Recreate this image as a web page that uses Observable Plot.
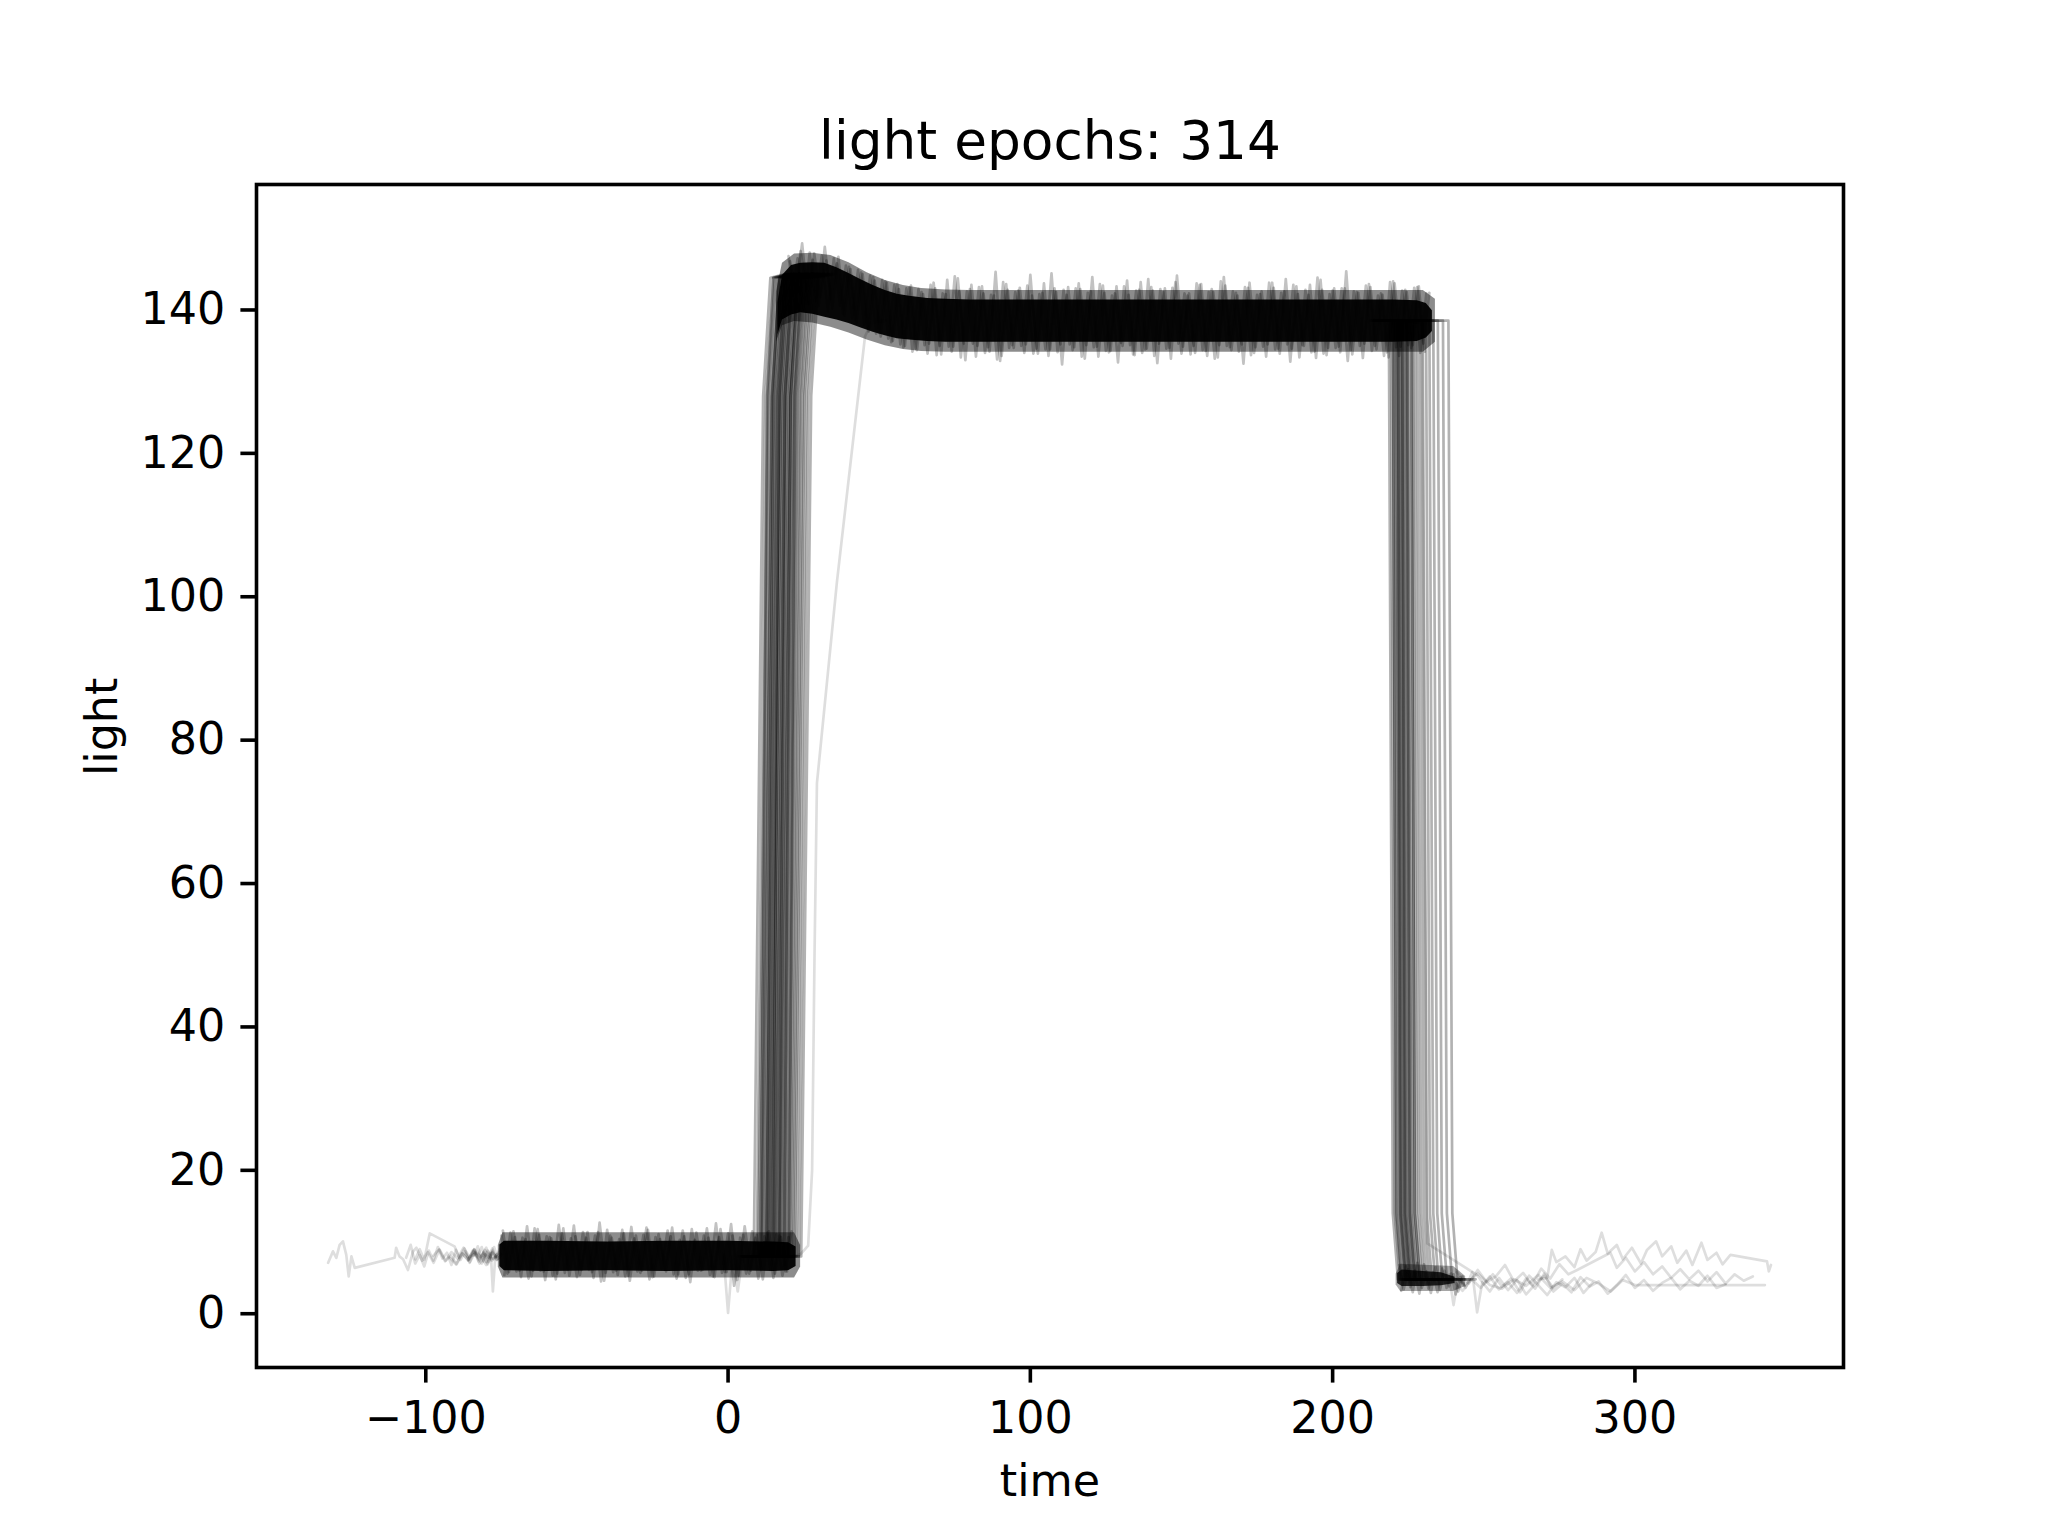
<!DOCTYPE html>
<html><head><meta charset="utf-8">
<script src="https://cdn.jsdelivr.net/npm/d3@7"></script>
<script src="https://cdn.jsdelivr.net/npm/@observablehq/plot@0.6"></script>
<style>html,body{margin:0;padding:0;background:#fff;}#chart{width:2048px;height:1536px;}</style>
</head><body><div id="chart"></div>
<script>
// ---------- text ----------
const titleText = "light epochs: 314";
const xLabel = "time";
const yLabel = "light";
const xTicks = [-100, 0, 100, 200, 300];
const yTicks = [0, 20, 40, 60, 80, 100, 120, 140];

// ---------- dense envelope ----------
// baseline (before the light goes on)
const baseCoreX  = [-75.5, -74, -60, -40, -20, 0, 15, 20, 22.5];
const baseCoreLo = [6.6, 6.0, 5.9, 6.0, 5.9, 6.0, 5.9, 6.0, 6.6];
const baseCoreHi = [9.6, 10.1, 10.1, 10.0, 10.1, 10.1, 10.0, 9.9, 9.3];
const baseMidX  = [-76, -74.5, 22, 24];
const baseMidLo = [6.5, 5.0, 5.0, 6.5];
const baseMidHi = [9.5, 11.3, 11.3, 9.5];
// overshoot hump + plateau
const highCoreX  = [16.5, 18, 21, 24, 28, 32, 36, 40, 44, 48, 52, 56, 60, 66, 72, 80, 100, 140, 180, 220, 228, 231, 233];
const highCoreHi = [141, 144.8, 146.2, 146.5, 146.6, 146.5, 145.9, 145.1, 144.2, 143.4, 142.7, 142.2, 141.9, 141.6, 141.5, 141.4, 141.4, 141.4, 141.4, 141.4, 141.3, 140.9, 139.9];
const highCoreLo = [136.5, 138.6, 139.3, 139.6, 139.4, 139.0, 138.6, 138.1, 137.5, 136.9, 136.4, 136.0, 135.8, 135.6, 135.5, 135.5, 135.5, 135.5, 135.5, 135.5, 135.6, 136.1, 137.0];
const highMidX  = [16, 18, 22, 28, 34, 40, 46, 52, 58, 64, 72, 80, 230, 234];
const highMidHi = [142.5, 146.5, 147.8, 147.9, 147.6, 146.6, 145.2, 144.1, 143.4, 143.0, 142.8, 142.7, 142.7, 141.5];
const highMidLo = [135.5, 137.8, 138.4, 138.2, 137.6, 136.8, 135.8, 135.0, 134.5, 134.2, 134.1, 134.1, 134.1, 135.5];
// after the light goes off
const lowCoreX  = [221.5, 223, 230, 236, 240.5];
const lowCoreLo = [4.2, 3.8, 3.8, 3.9, 4.2];
const lowCoreHi = [5.6, 6.1, 5.9, 5.7, 5.1];
const lowMidX  = [221, 222.5, 240, 244];
const lowMidLo = [4.0, 3.1, 3.1, 3.8];
const lowMidHi = [5.5, 6.9, 6.6, 5.2];

// ---------- noisy fringe traces (time grid start, step 2) ----------
const plateauStart = [20, 21, 20.5];
const plateauStep = 2;
const plateau1 = [147.5,141,148.2,142,147,140.5,148.8,141.5,146.5,139.5,
146,138.6,145.2,137.5,144.6,136.8,144,135.5,143.6,134.8,
143.1,134.6,142.5,133.9,143.8,135.0,142.2,134.2,144.4,135.3,
142.9,133.5,143.3,134.8,142.0,132.9,143.6,135.1,142.7,134.0,
144.9,134.6,142.4,133.6,143.0,135.2,142.1,134.4,143.7,133.2,
142.6,134.9,143.4,134.1,142.3,135.4,144.1,133.8,142.8,134.5,
143.2,132.6,142.5,134.7,143.9,133.9,142.0,135.0,143.5,134.3,
142.9,133.4,144.6,134.8,142.4,135.2,143.1,134.0,142.2,133.5,
143.8,134.6,142.6,132.8,143.3,135.1,142.1,134.2,144.2,133.7,
142.7,134.9,143.0,134.4,142.5,133.3,143.6,135.0,142.3,134.1,
144.0,133.6,142.8,134.7,143.2,135.3,142.4];
const plateau2 = [141.5,147.2,140,148,141.2,147.6,139.8,147.2,140.6,146.2,
138.8,145.6,137.9,144.8,136.7,144.2,136.0,143.5,135.2,143.0,
134.2,142.9,135.1,143.5,133.7,142.3,134.9,144.7,133.4,142.6,
135.3,143.2,134.0,142.1,133.1,143.9,134.7,142.5,135.0,143.4,
133.9,142.2,134.5,145.1,134.1,142.8,135.2,143.0,133.5,142.4,
134.8,143.6,134.3,142.0,132.7,143.3,135.1,142.7,134.0,144.3,
133.6,142.9,134.6,143.1,135.3,142.3,133.8,143.7,134.4,142.5,
133.2,144.0,135.0,142.6,134.2,143.2,133.7,142.1,134.9,143.8,
134.5,142.4,135.2,143.5,133.4,142.8,134.1,144.5,133.9,142.2,
134.7,143.0,132.9,142.6,135.0,143.4,134.3,142.0,133.6,143.9,
134.8,142.7,135.1,143.1,134.0,142.3];
const plateau3 = [146.8,142.5,149.3,140.8,147.9,141.8,146.9,140.2,147.4,139.2,
145.7,138.2,145.0,137.0,144.1,136.3,143.8,135.7,142.9,135.0,
143.4,134.4,142.2,135.3,143.0,133.8,144.2,134.9,142.6,133.0,
143.5,135.0,142.3,134.2,145.3,133.6,142.8,134.7,143.1,135.2,
142.0,133.9,143.7,134.5,142.5,132.4,143.2,134.8,142.9,135.1,
144.6,133.5,142.4,134.3,143.3,135.0,142.1,133.7,143.9,134.6,
142.7,135.3,143.0,133.2,144.8,134.9,142.3,134.0,143.6,133.6,
142.5,135.1,143.4,134.4,142.0,132.5,143.8,134.8,142.6,135.2,
143.1,133.9,144.3,134.6,142.2,135.0,143.5,133.3,142.8,134.7,
143.0,134.1,145.4,133.8,142.4,135.3,143.2,134.5,142.1,133.4,
143.7,134.9,142.5,135.1,143.3,134.2];
const baseStart = [-75, -74, -74.5];
const baseStep = 2;
const base1 = [10.9,5.6,11.5,6.0,10.4,5.2,11.8,5.9,10.7,4.8,
11.2,6.1,12.3,5.4,10.6,5.8,11.4,4.6,10.9,6.0,
11.7,5.3,10.5,5.7,12.0,5.1,11.1,6.2,10.8,4.9,
11.6,5.5,10.3,6.0,11.9,5.2,10.7,5.8,12.5,4.7,
11.0,5.6,10.6,6.1,11.3,5.0,10.9,5.9,11.5];
const base2 = [5.4,11.3,5.9,10.6,4.9,11.9,6.0,10.8,5.3,12.4,
5.7,10.5,5.1,11.4,6.1,10.9,4.5,11.7,5.8,10.4,
5.2,12.1,5.9,11.0,4.8,10.7,6.2,11.6,5.5,10.3,
5.0,11.8,6.0,10.9,5.4,12.6,5.7,11.2,3.9,10.6,
5.6,11.5,4.9,10.8,6.1,11.1,5.3,10.7];
const base3 = [11.6,5.8,10.7,5.1,12.2,6.0,11.0,4.7,10.5,5.6,
11.9,5.3,10.8,6.1,11.4,5.0,12.7,5.7,10.6,5.4,
11.2,4.6,10.9,6.0,11.7,5.2,10.4,5.9,12.0,5.5,
10.8,4.4,11.3,6.1,10.6,5.1,11.8,5.8,10.9,5.3,
12.2,6.0,11.0,4.8,11.5,5.6,10.7,5.9];
const lowStart = [222, 222.7];
const lowStep = 1.5;
const low1 = [6.8,3.4,6.2,3.0,7.1,3.6,5.9,2.9,6.5,3.3,6.0,3.8,5.5,3.1,5.2];
const low2 = [3.2,6.6,3.7,6.0,2.8,6.9,3.5,5.8,3.0,6.3,3.6,5.6,2.7,5.1,3.9];

// ---------- switching edges: time of each trace at the given light levels ----------
const riseLevels = [8.0, 8.0, 128, 144.5, 145.0];
const riseTimes = [
[3.5,8.5,11.6,14.0,19.0],[4.5,9.5,12.4,14.9,19.9],[5.0,10.0,13.2,15.5,20.5],[5.5,10.5,13.4,15.9,20.9],
[6.0,11.0,14.1,16.4,21.4],[6.2,11.2,14.5,17.0,22.0],[6.5,11.5,14.4,16.9,21.9],[7.0,12.0,15.2,17.6,22.6],
[7.3,12.3,15.1,17.6,22.6],[7.6,12.6,15.8,18.2,23.2],[8.0,13.0,16.2,18.7,23.7],[8.2,13.2,16.0,18.4,23.4],
[8.5,13.5,16.6,19.0,24.0],[8.8,13.8,17.1,19.6,24.6],[9.0,14.0,17.0,19.4,24.4],[9.3,14.3,17.6,20.1,25.1],
[9.6,14.6,17.5,19.9,24.9],[10.0,15.0,18.3,20.8,25.8],[10.2,15.2,18.1,20.5,25.5],[10.5,15.5,18.7,21.1,26.1],
[10.8,15.8,19.0,21.5,26.5],[11.0,16.0,19.3,21.7,26.7],[11.4,16.4,19.5,22.0,27.0],[11.8,16.8,20.1,22.5,27.5],
[12.0,17.0,20.2,22.7,27.7],[12.3,17.3,20.6,23.0,28.0],[12.7,17.7,20.8,23.3,28.3],[13.0,18.0,21.3,23.7,28.7],
[13.4,18.4,21.5,24.0,29.0],[13.8,18.8,22.0,24.4,29.4],[14.2,19.2,22.3,24.8,29.8],[14.6,19.6,22.9,25.3,30.3],
[15.0,20.0,23.1,25.6,30.6],[15.5,20.5,23.8,26.2,31.2],[16.0,21.0,24.1,26.6,31.6],[16.5,21.5,24.8,27.2,32.2],
[17.0,22.0,25.2,27.7,32.7],[17.6,22.6,25.9,28.3,33.3],[18.4,23.4,26.6,29.1,34.1],[19.2,24.2,27.5,29.9,34.9],
[7.8,12.8,14.9,16.8,21.8],[9.9,14.9,16.8,18.9,23.9],[11.9,16.9,18.8,21.0,26.0],[13.6,18.6,20.7,23.0,28.0],
[5.8,10.8,12.9,15.0,20.0],[15.2,20.2,22.1,24.4,29.4]];
const fallLevels = [138.5, 138.5, 14, 4.8, 4.8];
const fallTimes = [
[212.6,218.6,219.9,221.6,227.6],[213.3,219.3,220.6,222.3,228.3],[213.9,219.9,221.2,222.9,228.9],
[214.4,220.4,221.7,223.4,229.4],[214.8,220.8,222.1,223.8,229.8],[215.1,221.1,222.4,224.1,230.1],
[215.5,221.5,222.8,224.5,230.5],[215.8,221.8,223.1,224.8,230.8],[216.2,222.2,223.5,225.2,231.2],
[216.5,222.5,223.8,225.5,231.5],[216.9,222.9,224.2,225.9,231.9],[217.2,223.2,224.5,226.2,232.2],
[217.6,223.6,224.9,226.6,232.6],[218.0,224.0,225.3,227.0,233.0],[218.4,224.4,225.7,227.4,233.4],
[218.8,224.8,226.1,227.8,233.8],[219.3,225.3,226.6,228.3,234.3],[219.9,225.9,227.2,228.9,234.9],
[220.5,226.5,227.8,229.5,235.5],[221.2,227.2,228.5,230.2,236.2],[222.0,228.0,229.3,231.0,237.0],
[222.9,228.9,230.2,231.9,237.9],[223.8,229.8,231.1,232.8,238.8],[224.9,230.9,232.2,233.9,239.9],
[226.0,232.0,233.3,235.0,241.0],[227.3,233.3,234.6,236.3,242.3],[228.8,234.8,236.1,237.8,243.8],
[230.5,236.5,237.8,239.5,245.5],[232.3,238.3,239.6,241.3,247.3],
[214.0,220.0,220.9,222.6,228.6],[215.6,221.6,222.5,224.2,230.2],[217.0,223.0,223.9,225.6,231.6],
[218.6,224.6,225.5,227.2,233.2],[220.2,226.2,227.1,228.8,234.8]];

// ---------- individual sparse traces [time, light] ----------
const slowRise = [[20,7.8],[24,8.3],[26.5,9.5],[27.8,20],[28.6,50],[29.4,74],[36,102],[45.3,136.3],[47.5,138.3],[52,138.5]];
const spikeTrace = [[-1.5,8.2],[0,0.1],[1.5,7.9],[3.2,3.1],[4.8,8.0]];
const leftA = [[-132.3,7.1],[-130.7,8.7],[-129.6,7.8],[-128.5,9.6],[-127.4,10.1],[-126.3,8.2],[-125.5,5.2],[-124.6,8.0],[-123.5,6.4],[-110.3,7.8],[-109.8,9.2],[-108.7,8.0],[-107.5,7.6],[-105.9,6.1],[-104.2,8.7],[-103.1,9.2],[-101.2,7.4],[-99.3,8.6],[-97.4,7.1],[-95.5,8.9],[-93.6,7.3],[-91.7,8.1],[-89.8,6.9],[-87.9,8.4],[-86.0,7.5],[-84.1,8.8],[-82.2,7.0],[-80.3,8.3],[-78.4,7.6],[-76.5,8.0]];
const leftB = [[-103.5,7.6],[-102,9.0],[-100.5,7.5],[-98.7,11.2],[-90.5,9.4],[-89,7.8],[-87.2,9.1],[-85.4,7.2],[-83.6,8.6],[-81.8,7.9],[-80,9.2],[-78.2,7.4],[-76.4,8.3]];
const leftC = [[-106.5,7.8],[-105,9.6],[-103.5,7.0],[-102,8.2],[-100.5,6.6],[-99,8.8],[-97.5,7.4],[-96,9.3],[-94.5,7.7],[-93,8.5],[-91.5,6.8],[-90,8.9],[-88.5,7.5],[-87,8.7],[-85.5,7.1],[-84,9.0],[-82.5,7.6],[-81,8.4],[-79.5,6.9],[-78,8.8],[-76.5,7.5]];
const leftD = [[-97.5,8.1],[-95.5,9.0],[-93.5,7.4],[-91.5,8.6],[-89.5,7.7],[-87.5,9.2],[-85.5,7.9],[-83.5,8.4],[-81.5,7.0],[-79.5,8.8],[-77.5,7.6],[-75.5,8.3]];
const leftE = [[-92,7.8],[-90,6.9],[-88,8.4],[-86,7.5],[-84,9.0],[-82,8.1],[-80,6.8],[-78,8.6],[-76,7.7]];
const leftF = [[-87,8.4],[-85.5,7.6],[-84,8.9],[-82.5,7.3],[-81,8.6],[-79.5,7.8],[-78,9.1],[-76.5,7.5],[-75,8.2]];
const leftG = [[-86,7.4],[-84.5,8.8],[-83,7.9],[-81.5,9.3],[-80,7.2],[-78.5,8.5],[-77.8,3.1],[-77,8.0],[-75.5,8.7]];
const leftH = [[-84,8.1],[-82.8,9.4],[-81.6,7.7],[-80.4,8.9],[-79.2,7.2],[-78,8.5],[-76.8,7.9],[-75.6,9.0]];
const leftI = [[-81,7.3],[-79.8,8.6],[-78.6,7.9],[-77.4,9.3],[-76.2,7.6],[-75,8.4]];
const tail1 = [[240,4.6],[243,3.2],[246,4.8],[249,3.6],[252,5.2],[255,3.4],[258,4.4],[261,2.9],[264,4.9],[267,3.5],[270,5.6],[273,3.1],[276,4.2],[279,3.0],[282,5.1],[285,3.8],[288,4.5],[291,2.8],[294,4.0],[297,5.4],[300,3.6],[303,4.7],[306,3.2],[309,4.3],[312,5.0],[315,3.4],[318,4.6],[321,3.9],[324,5.3],[327,3.6],[330,4.1]];
const tail2 = [[268,4.8],[271,5.0],[272.5,8.9],[274,7.2],[277,8.0],[280,6.5],[282,9.0],[284,7.4],[287,8.6],[289,11.3],[291,8.4],[294,9.6],[296,7.6],[299,9.2],[302,7.0],[304,8.9],[307,10.1],[309,8.0],[312,9.4],[314,7.1],[317,8.8],[319,6.8],[322,9.9],[324,7.5],[327,8.5],[329,6.9],[331.6,8.2],[343.7,7.3],[344.3,5.9],[345,6.8]];
const tail3 = [[240,5.0],[244,4.1],[248,5.6],[252,4.0],[256,3.5],[260,4.8],[264,3.9],[268,5.4],[272,3.6],[276,4.5],[280,3.3],[284,5.0],[288,4.2],[292,3.1],[296,4.7],[300,4.0],[343,4.0]];
const tail4 = [[241,5.8],[245,4.2],[248,6.1],[251,4.4],[254,5.2],[257,6.8],[260,4.5],[263,5.7],[266,4.0],[269,6.3],[272,4.9],[275,6.9],[278,5.5],[280.9,6.1],[291.9,8.5],[294,6.4],[297,7.8],[300,5.9],[303,7.2],[306,5.5],[309,6.6],[312,5.0],[315,6.2],[318,4.8],[321,6.0],[324,4.5],[327,5.8],[330,4.2],[333,5.5],[336,4.6],[339,5.2]];
const tail5 = [[225,138.4],[229.5,138.3],[231.3,9.8],[247.8,5.4],[250,4.1],[253,5.5],[256,3.8],[259,4.9],[262,3.0],[265,5.3],[268,4.0],[271,2.6],[274,4.4],[277,3.7],[280,5.0],[283,2.9],[286,4.3]];
const tail6 = [[238.5,5.5],[240,1.2],[241.5,5.0],[244,3.6],[246.2,5.8],[247.8,0.2],[249.5,4.4],[252,3.1],[255,5.0],[258,3.3],[261,4.7],[264,2.7],[267,4.1],[270,5.3],[273,3.6],[276,4.8]];

// ---------- table builders ----------
const bandRows = (xs, lo, hi) => xs.map((x, i) => ({x, y1: lo[i], y2: hi[i]}));
const gridRows = (start, step, vals, id) => vals.map((y, i) => ({x: start + i * step, y, id}));
const levelRows = (rows, levels, prefix) => rows.flatMap((r, k) => r.map((x, i) => ({x, y: levels[i], id: prefix + k})));
const pairRows = (pairs, id) => pairs.map(([x, y]) => ({x, y, id}));

const noiseRows = [
  ...gridRows(plateauStart[0], plateauStep, plateau1, "p1"),
  ...gridRows(plateauStart[1], plateauStep, plateau2, "p2"),
  ...gridRows(plateauStart[2], plateauStep, plateau3, "p3"),
  ...gridRows(baseStart[0], baseStep, base1, "b1"),
  ...gridRows(baseStart[1], baseStep, base2, "b2"),
  ...gridRows(baseStart[2], baseStep, base3, "b3"),
  ...gridRows(lowStart[0], lowStep, low1, "l1"),
  ...gridRows(lowStart[1], lowStep, low2, "l2")
];
const edgeRows = [...levelRows(riseTimes, riseLevels, "r"), ...levelRows(fallTimes, fallLevels, "f")];
const sparse = {slowRise, spikeTrace, leftA, leftB, leftC, leftD, leftE, leftF, leftG, leftH, leftI, tail1, tail2, tail3, tail4, tail5, tail6};
const sparseRows = Object.entries(sparse).flatMap(([k, v]) => pairRows(v, k));

const band = (rows, op) => Plot.areaY(rows, {x: "x", y1: "y1", y2: "y2", fill: "black", fillOpacity: op});
const traces = (rows, op, w) => Plot.line(rows, {x: "x", y: "y", z: "id", stroke: "black", strokeOpacity: op, strokeWidth: w, strokeLinejoin: "round"});
const minus = d => d < 0 ? "\u2212" + Math.abs(d) : String(d);

const chart = Plot.plot({
  width: 2048, height: 1536,
  marginLeft: 256, marginRight: 205, marginTop: 184, marginBottom: 169,
  style: {fontFamily: "DejaVu Sans", fontSize: "44.4px", background: "white", color: "black"},
  x: {domain: [-156, 369]},
  y: {domain: [-7.5, 157.5]},
  marks: [
    band(bandRows(baseMidX, baseMidLo, baseMidHi), 0.45),
    band(bandRows(highMidX, highMidLo, highMidHi), 0.45),
    band(bandRows(lowMidX, lowMidLo, lowMidHi), 0.35),
    traces(noiseRows, 0.24, 2.7),
    band(bandRows(baseCoreX, baseCoreLo, baseCoreHi), 0.95),
    band(bandRows(highCoreX, highCoreLo, highCoreHi), 0.95),
    band(bandRows(lowCoreX, lowCoreLo, lowCoreHi), 0.8),
    traces(edgeRows, 0.3, 2.7),
    traces(sparseRows, 0.13, 2.7),
    Plot.frame({stroke: "black", strokeWidth: 3.6}),
    Plot.axisX({ticks: xTicks, tickFormat: minus, tickSize: 15.6, tickPadding: 18.3, strokeWidth: 3.6, fontSize: 44.4, label: null}),
    Plot.axisY({ticks: yTicks, tickFormat: minus, tickSize: 15.6, tickPadding: 15.6, strokeWidth: 3.6, fontSize: 44.4, label: null}),
    Plot.text([xLabel], {text: d => d, frameAnchor: "bottom", dy: 128, lineAnchor: "bottom", fontSize: 44.4}),
    Plot.text([yLabel], {text: d => d, frameAnchor: "left", dx: -140, lineAnchor: "bottom", rotate: -90, fontSize: 44.4}),
    Plot.text([titleText], {text: d => d, frameAnchor: "top", dy: -26, lineAnchor: "bottom", fontSize: 53.3})
  ]
});
document.getElementById("chart").appendChild(chart);
</script>
</body></html>
